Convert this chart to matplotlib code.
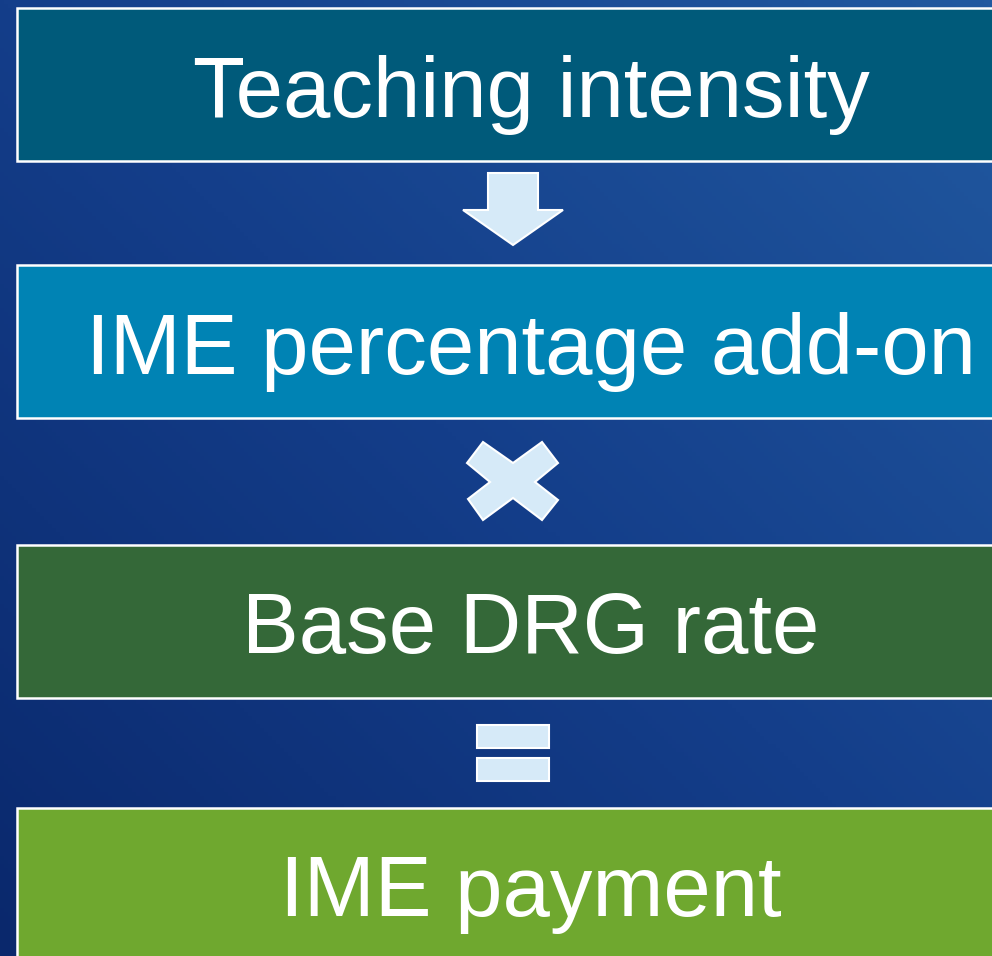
import numpy as np
import matplotlib.pyplot as plt
from matplotlib.patches import Rectangle, Polygon
from matplotlib.colors import LinearSegmentedColormap

# steps of the diagram
labels = ["Teaching intensity", "IME percentage add-on", "Base DRG rate", "IME payment"]
box_colors = ["#005a7a", "#0083b4", "#346838", "#6fa82f"]
box_tops = [8, 265, 545, 808]
box_height = 153

W, H = 992, 956
fig = plt.figure(figsize=(W / 100, H / 100), dpi=100)
ax = fig.add_axes([0, 0, 1, 1])
ax.set_xlim(0, W)
ax.set_ylim(H, 0)
ax.axis("off")

# background gradient, dark bottom-left to lighter top-right
yy, xx = np.mgrid[0:H:4, 0:W:4]
t = (xx / W + (H - yy) / H) / 2
cmap = LinearSegmentedColormap.from_list("bg", ["#0a286c", "#143e8a", "#2159a0"])
ax.imshow(t, cmap=cmap, extent=[0, W, H, 0], aspect="auto", zorder=0)

for lab, col, top in zip(labels, box_colors, box_tops):
    ax.add_patch(Rectangle((17, top), 1030, box_height, facecolor=col,
                           edgecolor="white", lw=1.8, zorder=2))
    ax.text(531, top + box_height / 2 + 32, lab, color="white", fontsize=61.3,
            family="Liberation Sans", ha="center", va="baseline", zorder=3)

sym_kw = dict(facecolor="#d6eaf8", edgecolor="white", lw=1.5, zorder=3)
cx = 513
# down arrow
ax.add_patch(Polygon([(cx - 25, 173), (cx + 25, 173), (cx + 25, 210), (cx + 50, 210),
                      (cx, 245), (cx - 50, 210), (cx - 25, 210)], **sym_kw))
# multiplication sign
ax.add_patch(Polygon([(483, 442), (467, 463), (490, 482), (468, 499), (483, 520),
                      (513, 498), (542, 520), (558, 500), (535, 482), (558, 463),
                      (542, 442), (513, 463)], **sym_kw))
# equals sign
ax.add_patch(Rectangle((477, 725), 72, 23, **sym_kw))
ax.add_patch(Rectangle((477, 758), 72, 23, **sym_kw))

fig.savefig("out.png", dpi=100)
